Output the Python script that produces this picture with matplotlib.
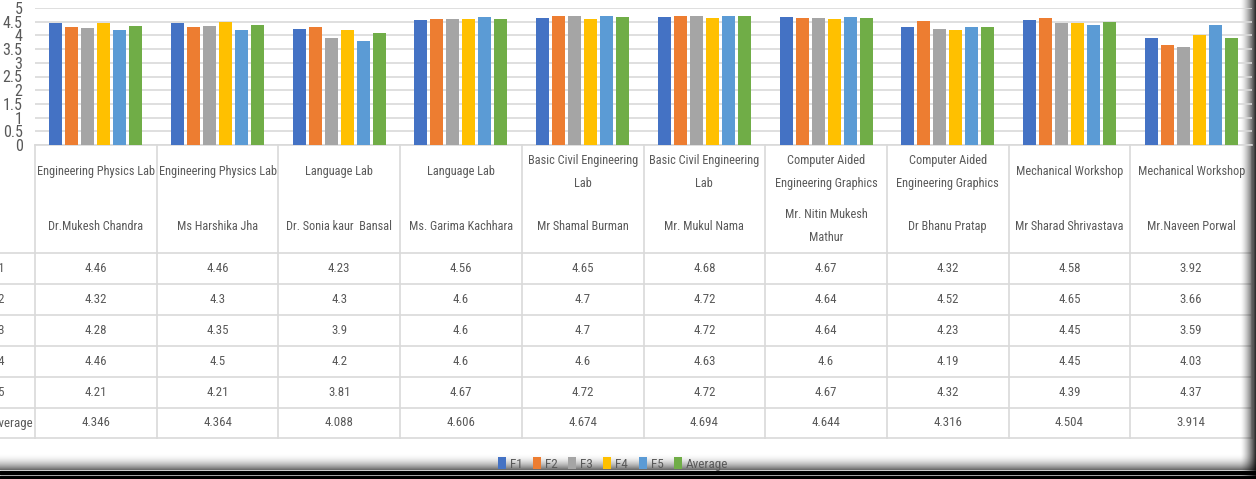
import numpy as np
import matplotlib
matplotlib.use("Agg")
import matplotlib.pyplot as plt

plt.rcParams['font.family'] = ['Roboto Condensed', 'Carlito', 'Lato', 'DejaVu Sans']

# Data
subjects = ["Engineering Physics Lab", "Engineering Physics Lab", "Language Lab", "Language Lab",
            "Basic Civil Engineering\nLab", "Basic Civil Engineering\nLab",
            "Computer Aided\nEngineering Graphics", "Computer Aided\nEngineering Graphics",
            "Mechanical Workshop", "Mechanical Workshop"]
teachers = ["Dr.Mukesh Chandra", "Ms Harshika Jha", "Dr. Sonia kaur  Bansal", "Ms. Garima Kachhara",
            "Mr Shamal Burman", "Mr. Mukul Nama", "Mr. Nitin Mukesh\nMathur", "Dr Bhanu Pratap",
            "Mr Sharad Shrivastava", "Mr.Naveen Porwal"]
series_names = ["F1", "F2", "F3", "F4", "F5", "Average"]
f1 = [4.46, 4.46, 4.23, 4.56, 4.65, 4.68, 4.67, 4.32, 4.58, 3.92]
f2 = [4.32, 4.3, 4.3, 4.6, 4.7, 4.72, 4.64, 4.52, 4.65, 3.66]
f3 = [4.28, 4.35, 3.9, 4.6, 4.7, 4.72, 4.64, 4.23, 4.45, 3.59]
f4 = [4.46, 4.5, 4.2, 4.6, 4.6, 4.63, 4.6, 4.19, 4.45, 4.03]
f5 = [4.21, 4.21, 3.81, 4.67, 4.72, 4.72, 4.67, 4.32, 4.39, 4.37]
avg = [4.346, 4.364, 4.088, 4.606, 4.674, 4.694, 4.644, 4.316, 4.504, 3.914]
series = [f1, f2, f3, f4, f5, avg]
colors = ["#4472C4", "#ED7D31", "#A5A5A5", "#FFC000", "#5B9BD5", "#70AD47"]
yticks = [0, 0.5, 1, 1.5, 2, 2.5, 3, 3.5, 4, 4.5, 5]

W, H = 1256, 479
txt = "#595959"
grid = "#D9D9D9"

fig = plt.figure(figsize=(W / 100, H / 100), dpi=100)

# background axes in pixel coords for the data table and the frame shadow
bg = fig.add_axes([0, 0, 1, 1])
bg.set_xlim(0, W)
bg.set_ylim(H, 0)
bg.axis("off")

# bar chart
x0, x1 = 35, 1252
ytop, ybot = 8, 145
ax = fig.add_axes([x0 / W, 1 - ybot / H, (x1 - x0) / W, (ybot - ytop) / H])
ax.patch.set_alpha(0)
n = len(f1)
x = np.arange(n)
pitch = 16 / 121.7
bw = 13 / 121.7
bars = []
for i, (vals, c, name) in enumerate(zip(series, colors, series_names)):
    b = ax.bar(x + (i - 2.5) * pitch, vals, bw, color=c, label=name, zorder=3)
    bars.append(b)
ax.set_xlim(-0.5, n - 0.5)
ax.set_ylim(0, 5)
ax.set_yticks(yticks)
ax.set_yticklabels([f"{v:g}" for v in yticks], fontsize=11.5, color=txt)
ax.tick_params(axis="y", length=0, pad=9)
ax.set_xticks([])
ax.grid(axis="y", color=grid, linewidth=1.2, zorder=0)
for s in ["top", "right", "left"]:
    ax.spines[s].set_visible(False)
ax.spines["bottom"].set_color(grid)
ax.spines["bottom"].set_linewidth(1.2)

# data table under the chart
colw = (x1 - x0) / n
row_edges = [253, 284, 315, 346, 377, 408, 438]
for k in range(n + 1):
    bg.plot([x0 + k * colw] * 2, [ybot, row_edges[-1]], color=grid, lw=1.2)
for y in row_edges:
    bg.plot([0, x1], [y, y], color=grid, lw=1.2)

fs_head = 8.8
fs = 9.3
for k in range(n):
    cx = x0 + (k + 0.5) * colw
    bg.text(cx, 172, subjects[k], ha="center", va="center", fontsize=fs_head, color=txt, linespacing=1.95)
    bg.text(cx, 226, teachers[k], ha="center", va="center", fontsize=fs_head, color=txt, linespacing=1.95)
    for r, vals in enumerate(series):
        yc = (row_edges[r] + row_edges[r + 1]) / 2
        bg.text(cx, yc, f"{vals[k]:g}", ha="center", va="center", fontsize=fs, color=txt)
for r, name in enumerate(series_names):
    yc = (row_edges[r] + row_edges[r + 1]) / 2
    bg.text(-8, yc, name, ha="left", va="center", fontsize=fs, color=txt)

fig.legend(handles=bars, labels=series_names, loc="center", bbox_to_anchor=(613 / W, 1 - 464 / H),
           ncol=6, frameon=False, fontsize=9.5, handlelength=0.6, handleheight=1.0,
           handletextpad=0.3, columnspacing=0.8, labelcolor=txt)

# window shadow on right and bottom edges
ramp = np.linspace(0, 1, 64)
rgba = np.zeros((1, 64, 4))
rgba[..., 3] = ramp ** 1.5 * 0.85
bg.imshow(rgba, extent=[1240, W, H, 0], aspect="auto", zorder=10)
rgba_b = np.zeros((64, 1, 4))
rgba_b[:, 0, 3] = ramp ** 2 * 0.6
bg.imshow(rgba_b, extent=[0, W, 470, 453], aspect="auto", zorder=10)
bg.fill_between([0, W], 471, 474, color="black", zorder=11)
bg.fill_between([0, W], 476, 479, color="black", zorder=11)
bg.set_xlim(0, W)
bg.set_ylim(H, 0)

fig.savefig("out.png", dpi=100)
